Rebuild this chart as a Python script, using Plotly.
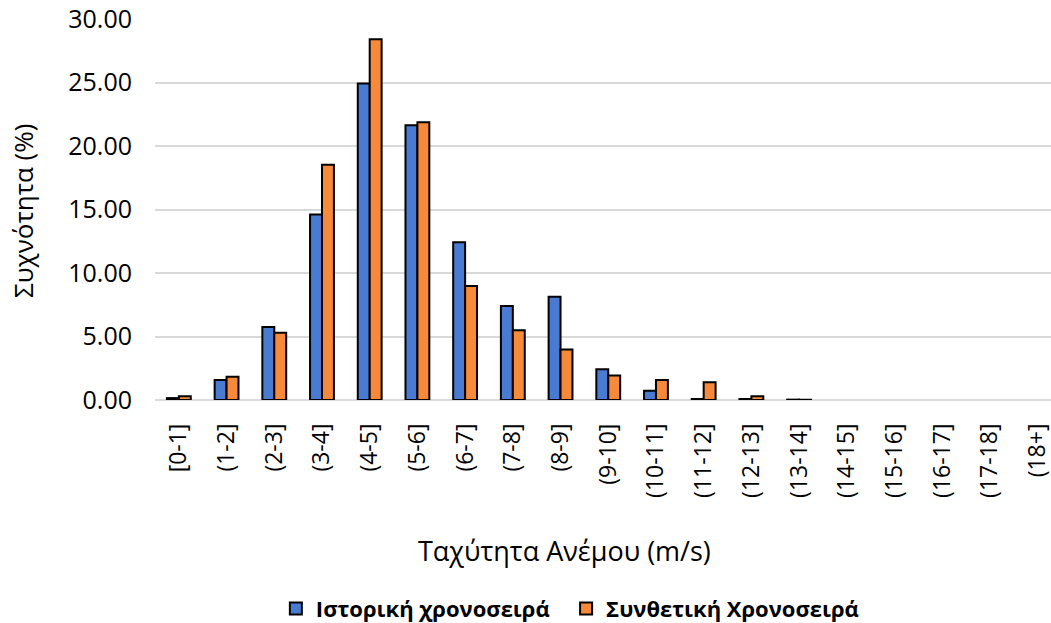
import plotly.graph_objects as go

# Wind speed bins (m/s)
categories = ["[0-1]", "(1-2]", "(2-3]", "(3-4]", "(4-5]", "(5-6]", "(6-7]", "(7-8]",
              "(8-9]", "(9-10]", "(10-11]", "(11-12]", "(12-13]", "(13-14]", "(14-15]",
              "(15-16]", "(16-17]", "(17-18]", "(18+]"]

# Frequency (%) per bin
historical = [0.15, 1.57, 5.74, 14.6, 24.92, 21.63, 12.43, 7.40, 8.13, 2.42, 0.73,
              0.08, 0.08, 0.03, 0, 0, 0, 0, 0]
synthetic = [0.30, 1.83, 5.29, 18.53, 28.4, 21.87, 8.98, 5.50, 3.98, 1.92, 1.58,
             1.40, 0.30, 0.02, 0, 0, 0, 0, 0]

y_ticks = [0, 5, 10, 15, 20, 25, 30]

FONT = "Open Sans"
BLUE = "#4a7bd2"
ORANGE = "#f68a3a"


def outline_widths(values):
    # empty bins get no outline so nothing is drawn on the baseline
    return [2 if v > 0 else 0 for v in values]


fig = go.Figure()
fig.add_trace(go.Bar(
    x=categories, y=historical, name="<b>Ιστορική χρονοσειρά</b>&nbsp;&nbsp;",
    marker=dict(color=BLUE, line=dict(color="#000000", width=outline_widths(historical))),
))
fig.add_trace(go.Bar(
    x=categories, y=synthetic, name="<b>Συνθετική Χρονοσειρά</b>",
    marker=dict(color=ORANGE, line=dict(color="#000000", width=outline_widths(synthetic))),
))

fig.update_layout(
    width=1051, height=623,
    margin=dict(l=155, r=0, t=19, b=223, autoexpand=False),
    paper_bgcolor="white", plot_bgcolor="white",
    barmode="group", bargap=0.5, bargroupgap=0,
    font=dict(family=FONT, color="#000000"),
    showlegend=True,
    legend=dict(
        orientation="h", x=0.463, xanchor="center", y=-0.548, yanchor="middle",
        font=dict(family=FONT, size=22, color="#000000"),
        itemsizing="constant", itemwidth=30,
    ),
    xaxis=dict(
        type="category", range=[-0.5, 18.28], automargin=False,
        tickangle=-90, tickfont=dict(family=FONT, size=23, color="#000000"),
        showgrid=False, showline=False, ticks="", ticklabelstandoff=18,
    ),
    yaxis=dict(
        range=[0, 30], tickvals=y_ticks, tickformat=".2f", automargin=False,
        tickfont=dict(family=FONT, size=25, color="#000000"),
        showgrid=True, gridcolor="#d9d9d9", gridwidth=2,
        zeroline=True, zerolinecolor="#d9d9d9", zerolinewidth=2,
        showline=False, ticks="", ticklabelstandoff=22,
    ),
    annotations=[
        dict(text="Ταχύτητα Ανέμου (m/s)", xref="paper", yref="paper",
             x=0.4575, y=-0.395, xanchor="center", yanchor="middle",
             showarrow=False, font=dict(family=FONT, size=27, color="#000000")),
        dict(text="Συχνότητα (%)", xref="paper", yref="paper",
             x=-0.148, y=0.497, xanchor="center", yanchor="middle", textangle=-90,
             showarrow=False, font=dict(family=FONT, size=26, color="#000000")),
    ],
)

fig.write_html("out.html")
